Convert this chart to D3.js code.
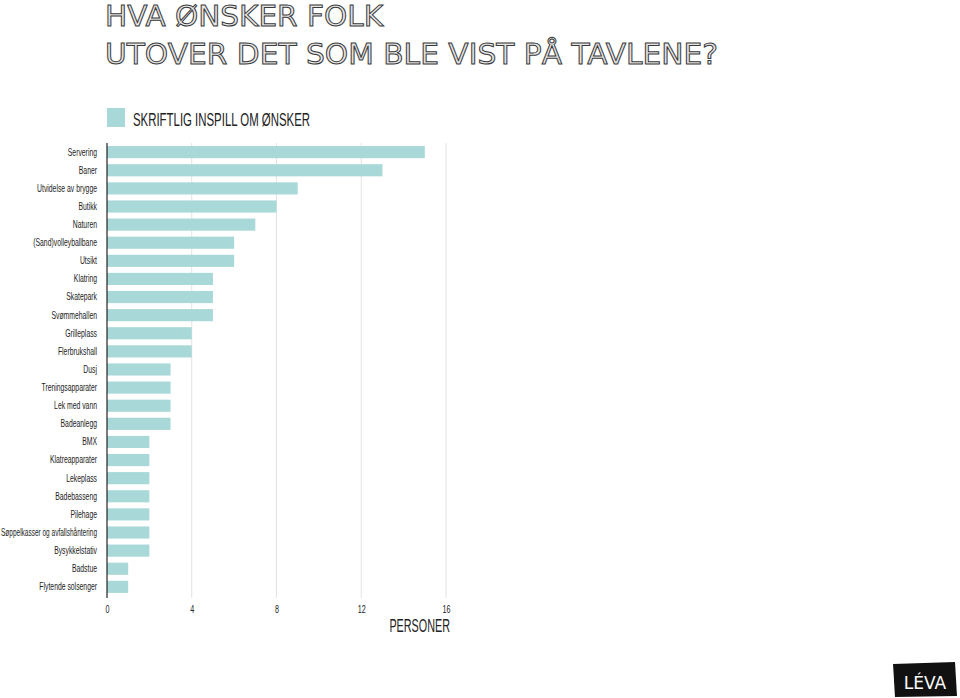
<!DOCTYPE html>
<html><head><meta charset="utf-8">
<script src="https://cdn.jsdelivr.net/npm/d3@7"></script>
<style>body{margin:0;background:#fff}</style>
</head><body>
<svg id="c" width="960" height="698"></svg>
<script>
const categories = ["Servering","Baner","Utvidelse av brygge","Butikk","Naturen","(Sand)volleyballbane","Utsikt","Klatring","Skatepark","Svømmehallen","Grilleplass","Flerbrukshall","Dusj","Treningsapparater","Lek med vann","Badeanlegg","BMX","Klatreapparater","Lekeplass","Badebasseng","Pilehage","Søppelkasser og avfallshåntering","Bysykkelstativ","Badstue","Flytende solsenger"];
const values = [15,13,9,8,7,6,6,5,5,5,4,4,3,3,3,3,2,2,2,2,2,2,2,1,1];
const ticks = [0,4,8,12,16];
const titleLines = ["HVA ØNSKER FOLK","UTOVER DET SOM BLE VIST PÅ TAVLENE?"];
const legendLabel = "SKRIFTLIG INSPILL OM ØNSKER";
const axisTitle = "PERSONER";

const svg = d3.select("#c");
const font = "'Liberation Sans', Arial, sans-serif";
const barColor = "#a8d8d8";

function condense(sel, f, maxW){
  sel.each(function(){
    let w = this.getComputedTextLength()*f;
    if (maxW && w > maxW) w = maxW;
    d3.select(this).attr("textLength", w).attr("lengthAdjust","spacingAndGlyphs");
  });
}

const x = d3.scaleLinear().domain([0,16]).range([107,446]);
const y = d3.scaleBand().domain(categories).range([143,596]).paddingInner(0.33).paddingOuter(0.17);

// grid
svg.append("g").selectAll("line").data(ticks.slice(1)).join("line")
  .attr("x1",d=>x(d)).attr("x2",d=>x(d)).attr("y1",143).attr("y2",598)
  .attr("stroke","#e2e2e2").attr("stroke-width",1);

// bars
svg.append("g").selectAll("rect").data(values).join("rect")
  .attr("x",x(0)).attr("y",(d,i)=>y(categories[i]))
  .attr("width",d=>x(d)-x(0)).attr("height",y.bandwidth())
  .attr("fill",barColor);

// y axis
const ya = d3.axisLeft(y).tickSize(0).tickPadding(10);
const yg = svg.append("g").attr("transform",`translate(${x(0)},0)`).call(ya);
yg.select(".domain").remove();
yg.selectAll("text").attr("font-family",font).attr("font-size",10.5).attr("fill","#222").call(condense,0.65,96);
svg.append("line").attr("x1",x(0)).attr("x2",x(0)).attr("y1",143).attr("y2",598).attr("stroke","#222").attr("stroke-width",1.2);

// x axis
const xa = d3.axisBottom(x).tickValues(ticks).tickSize(0).tickPadding(8);
const xg = svg.append("g").attr("transform","translate(0,598)").call(xa);
xg.select(".domain").remove();
xg.selectAll("text").attr("font-family",font).attr("font-size",10).attr("fill","#222").call(condense,0.72);

svg.append("text").attr("x",450).attr("y",632).attr("text-anchor","end")
  .attr("font-family",font).attr("font-size",18).attr("fill","#222").text(axisTitle).call(condense,0.6);

// legend
svg.append("rect").attr("x",107).attr("y",108).attr("width",18).attr("height",19).attr("fill",barColor);
svg.append("text").attr("x",133).attr("y",126).attr("font-family",font).attr("font-size",19)
  .attr("textLength",177).attr("lengthAdjust","spacingAndGlyphs").attr("fill","#222").text(legendLabel);

// title
const tl = [278, 613];
titleLines.forEach((t,i)=>{
  svg.append("text").attr("x",105).attr("y",26+i*38).attr("font-family","'DejaVu Sans', sans-serif")
    .attr("font-size",29).attr("textLength",tl[i]).attr("lengthAdjust","spacingAndGlyphs")
    .attr("fill","#e6e6e6").attr("stroke","#3a3a3a").attr("stroke-width",1).text(t);
});

// logo
const lg = svg.append("g");
lg.append("path").attr("d","M893,664 L955,662 L957,696 L895,697 Z").attr("fill","#111");
lg.append("text").attr("x",925).attr("y",689).attr("text-anchor","middle").attr("font-family","'DejaVu Sans', sans-serif")
  .attr("font-size",17).attr("fill","#fff").text("LÉVA");
</script>
</body></html>
